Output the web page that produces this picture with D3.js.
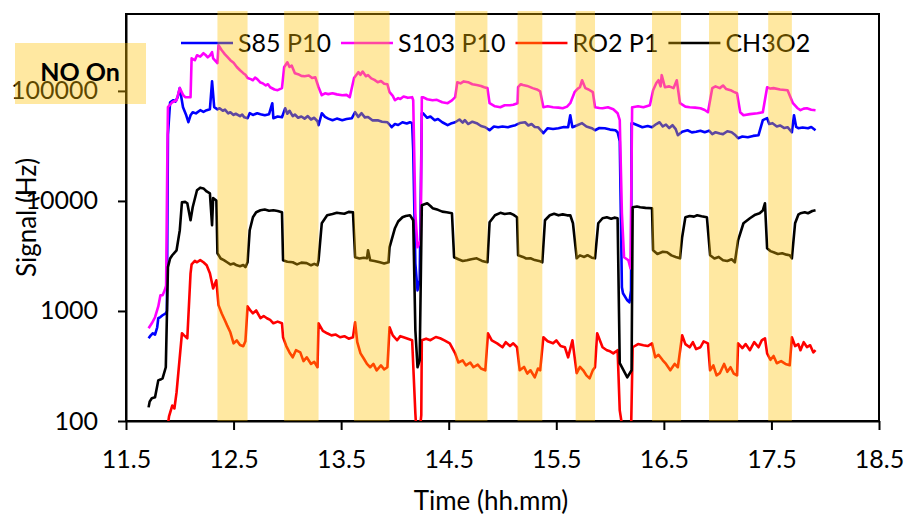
<!DOCTYPE html>
<html>
<head>
<meta charset="utf-8">
<script src="https://cdn.jsdelivr.net/npm/d3@7"></script>
<style>
  html, body { margin: 0; padding: 0; background: #ffffff; }
  svg { display: block; font-family: Lato, "Open Sans", sans-serif; }
</style>
</head>
<body>
<svg id="chart" width="907" height="518"></svg>
<script>
// ---- data -------------------------------------------------------------
const seriesNames = ["S85 P10", "S103 P10", "RO2 P1", "CH3O2"];
const seriesColors = ["#0000FF", "#FF00FF", "#FF0000", "#000000"];

const xTicks = [11.5, 12.5, 13.5, 14.5, 15.5, 16.5, 17.5, 18.5];
const yTicks = [100, 1000, 10000, 100000];

// NO switched on: [start, end] in hh.mm
const noOnPeriods = [
  [12.35, 12.63], [12.97, 13.29], [13.62, 13.95], [14.56, 14.86],
  [15.14, 15.37], [15.68, 15.86], [16.39, 16.66], [16.92, 17.19], [17.47, 17.69]
];

// [time (hh.mm), signal (Hz)]
const s85P10 = [
  [11.71,565],[11.73,600],[11.75,627],[11.77,610],[11.79,711],[11.80,859],[11.82,880],[11.84,914],
  [11.87,953],[11.88,1000],[11.89,40000],[11.91,78900],[11.94,82300],[11.96,80000],[11.98,87700],
  [12.00,106000],[12.03,71100],[12.06,60000],[12.08,52000],[12.10,60000],[12.12,64000],[12.15,62500],
  [12.19,66800],[12.22,64500],[12.25,66800],[12.28,68200],[12.30,122000],[12.32,71100],[12.35,68000],
  [12.37,69600],[12.40,66000],[12.42,67500],[12.45,62500],[12.47,64000],[12.50,60500],[12.52,62000],
  [12.56,59000],[12.58,61000],[12.60,57500],[12.63,56500],[12.65,62700],[12.68,60500],[12.72,62700],
  [12.75,61500],[12.79,60100],[12.83,61500],[12.86,77300],[12.87,56500],[12.91,58500],[12.95,57700],
  [12.98,69600],[13.00,62000],[13.02,66000],[13.05,59000],[13.07,61000],[13.10,57000],[13.13,58500],
  [13.16,56000],[13.19,59000],[13.22,55000],[13.25,57000],[13.28,53000],[13.29,48800],[13.32,62700],
  [13.35,58000],[13.38,56000],[13.42,54200],[13.46,56000],[13.51,54200],[13.55,55500],[13.60,56500],
  [13.63,64000],[13.66,58000],[13.69,62700],[13.72,57500],[13.75,58000],[13.79,54000],[13.84,54200],
  [13.88,52500],[13.93,51900],[13.97,46800],[14.00,50000],[14.03,49000],[14.07,51900],[14.11,50500],
  [14.14,51900],[14.16,50900],[14.17,29000],[14.19,2700],[14.21,1540],[14.23,1900],[14.25,62700],
  [14.26,62700],[14.30,57000],[14.33,58500],[14.37,54200],[14.40,55500],[14.44,51900],[14.49,48800],
  [14.52,50500],[14.56,51900],[14.60,55000],[14.63,51500],[14.65,54200],[14.68,50000],[14.72,52500],
  [14.76,50900],[14.80,48000],[14.84,46800],[14.88,43900],[14.92,47500],[14.96,46800],[15.00,47500],
  [15.05,46800],[15.09,48000],[15.12,48800],[15.16,51000],[15.21,51900],[15.24,48500],[15.27,50000],
  [15.30,47000],[15.33,46800],[15.38,41300],[15.42,45800],[15.47,45000],[15.52,45800],[15.57,47000],
  [15.61,46800],[15.63,60100],[15.65,46800],[15.69,48500],[15.74,50900],[15.78,47500],[15.83,45800],
  [15.86,43900],[15.90,46000],[15.95,45800],[16.00,44500],[16.05,43900],[16.07,42100],[16.09,35000],
  [16.11,1640],[16.12,1450],[16.16,1250],[16.18,1200],[16.195,1540],[16.20,50900],[16.21,50900],
  [16.25,49000],[16.30,46800],[16.35,48000],[16.39,46800],[16.43,50000],[16.46,51900],[16.49,47500],
  [16.52,49500],[16.55,46000],[16.58,48800],[16.61,45000],[16.63,39600],[16.67,42500],[16.72,43900],
  [16.76,42000],[16.80,42500],[16.84,43500],[16.88,42100],[16.92,43500],[16.95,40500],[16.98,42100],
  [17.02,41000],[17.05,40500],[17.09,43000],[17.13,42100],[17.16,40000],[17.19,37200],[17.23,38500],
  [17.28,37900],[17.33,39000],[17.38,39600],[17.42,54200],[17.46,56500],[17.48,50000],[17.51,50900],
  [17.55,47500],[17.58,48500],[17.62,46000],[17.65,46800],[17.69,42100],[17.71,60100],[17.73,47000],
  [17.75,45800],[17.79,46500],[17.84,45800],[17.87,47000],[17.91,43900]
];

const s103P10 = [
  [11.71,696],[11.74,773],[11.77,877],[11.80,1100],[11.82,1390],[11.84,1390],[11.86,1540],[11.873,1700],
  [11.885,30000],[11.89,71100],[11.93,78900],[11.97,82300],[12.00,106000],[12.03,92000],[12.05,87700],
  [12.10,87700],[12.11,198000],[12.14,190000],[12.16,211000],[12.19,205000],[12.22,220000],[12.24,212000],
  [12.26,202000],[12.28,210000],[12.30,225000],[12.31,198000],[12.35,179000],[12.36,260000],[12.39,234000],
  [12.42,215000],[12.44,205000],[12.47,190000],[12.50,180000],[12.53,165000],[12.56,154000],[12.59,145000],
  [12.61,140000],[12.63,131000],[12.66,128000],[12.68,125000],[12.70,132000],[12.72,128000],[12.75,119000],
  [12.77,117500],[12.80,112000],[12.82,115000],[12.84,108000],[12.88,103000],[12.91,101500],[12.95,106000],
  [12.97,164000],[13.00,182000],[13.02,165000],[13.04,170000],[13.07,145000],[13.10,142000],[13.13,137000],
  [13.16,136000],[13.20,138000],[13.23,131000],[13.26,133000],[13.29,108000],[13.32,91400],[13.35,95000],
  [13.38,93500],[13.42,95300],[13.46,93000],[13.51,91400],[13.55,92000],[13.58,87700],[13.62,131000],
  [13.66,148000],[13.68,140000],[13.70,150000],[13.73,136000],[13.75,139000],[13.78,130000],[13.81,126000],
  [13.84,120000],[13.87,123000],[13.90,116000],[13.93,115000],[13.95,97300],[13.98,90000],[14.00,82300],
  [14.03,86000],[14.05,84500],[14.08,89000],[14.12,86500],[14.16,87700],[14.17,82300],[14.19,7730],
  [14.21,3790],[14.24,4390],[14.25,87700],[14.26,87700],[14.30,84000],[14.35,82300],[14.39,83000],
  [14.44,78900],[14.49,77300],[14.53,82000],[14.56,87700],[14.58,120000],[14.61,117000],[14.64,122000],
  [14.68,120000],[14.72,115000],[14.76,113000],[14.80,111000],[14.83,108000],[14.86,106000],[14.88,77300],
  [14.93,72500],[14.98,71100],[15.02,74000],[15.07,74100],[15.10,75000],[15.14,77300],[15.145,108000],
  [15.17,115000],[15.19,113000],[15.23,111000],[15.28,106000],[15.32,103000],[15.35,99000],[15.38,71100],
  [15.42,72500],[15.47,71100],[15.52,70500],[15.56,69600],[15.60,72000],[15.63,77300],[15.67,97300],
  [15.70,105000],[15.72,108000],[15.74,125000],[15.77,106000],[15.80,103000],[15.84,97300],[15.86,71100],
  [15.90,70000],[15.93,69600],[15.98,71000],[16.03,68200],[16.07,62700],[16.09,54200],[16.11,7730],
  [16.13,3080],[16.17,2890],[16.19,2440],[16.205,71100],[16.21,71100],[16.26,72500],[16.31,71100],
  [16.37,74100],[16.40,101500],[16.43,118000],[16.45,125000],[16.47,110000],[16.48,139000],[16.51,108000],
  [16.55,110000],[16.59,106000],[16.62,125000],[16.65,77300],[16.70,72000],[16.74,71100],[16.79,70500],
  [16.84,69600],[16.88,67000],[16.91,64000],[16.95,106000],[16.98,110000],[17.02,106000],[17.05,112000],
  [17.08,104000],[17.12,101500],[17.15,98000],[17.18,95300],[17.21,64000],[17.24,60100],[17.30,61500],
  [17.37,62700],[17.42,64000],[17.46,108000],[17.49,105000],[17.52,106000],[17.58,103000],[17.65,101500],
  [17.70,77300],[17.74,70000],[17.77,66800],[17.80,69000],[17.83,69600],[17.87,67500],[17.91,66800]
];

const ro2P1 = [
  [11.88,80],[11.90,110],[11.93,138],[11.95,130],[11.97,182],[12.02,627],[12.04,600],[12.07,565],
  [12.10,2200],[12.11,2650],[12.14,2850],[12.16,2770],[12.19,2900],[12.22,2770],[12.25,2600],[12.28,2200],
  [12.31,1600],[12.34,1900],[12.36,1130],[12.39,950],[12.42,820],[12.44,740],[12.47,640],[12.50,508],
  [12.53,540],[12.56,490],[12.59,478],[12.61,530],[12.63,1100],[12.66,1000],[12.68,953],[12.71,1010],
  [12.75,859],[12.78,900],[12.81,859],[12.84,830],[12.87,773],[12.91,800],[12.95,773],[12.96,577],
  [12.99,480],[13.02,420],[13.05,379],[13.08,440],[13.12,420],[13.15,350],[13.18,379],[13.22,330],
  [13.25,345],[13.28,308],[13.29,773],[13.33,660],[13.37,627],[13.41,600],[13.45,610],[13.49,577],
  [13.53,590],[13.57,560],[13.61,577],[13.63,789],[13.65,520],[13.68,412],[13.71,370],[13.74,330],
  [13.77,308],[13.80,330],[13.83,289],[13.87,320],[13.90,295],[13.93,308],[13.95,711],[13.98,600],
  [14.02,542],[14.05,590],[14.08,577],[14.12,560],[14.16,542],[14.19,117],[14.20,80],[14.23,80],
  [14.245,113],[14.25,542],[14.29,560],[14.33,542],[14.38,580],[14.42,565],[14.46,540],[14.51,508],
  [14.56,412],[14.59,340],[14.63,356],[14.66,320],[14.70,340],[14.73,308],[14.77,325],[14.80,300],
  [14.84,289],[14.865,627],[14.90,540],[14.95,508],[15.00,468],[15.03,520],[15.07,480],[15.10,508],
  [15.135,468],[15.16,289],[15.20,310],[15.23,270],[15.26,289],[15.30,249],[15.33,300],[15.35,289],
  [15.38,577],[15.42,530],[15.47,508],[15.50,540],[15.54,480],[15.58,468],[15.61,379],[15.65,542],
  [15.69,272],[15.72,310],[15.75,289],[15.78,260],[15.81,244],[15.84,290],[15.86,308],[15.88,627],
  [15.93,468],[15.97,440],[16.00,430],[16.03,412],[16.07,440],[16.09,125],[16.12,80],[16.195,80],
  [16.21,468],[16.26,500],[16.31,488],[16.35,480],[16.39,508],[16.42,379],[16.45,400],[16.49,356],
  [16.52,330],[16.56,289],[16.60,330],[16.63,308],[16.67,601],[16.70,500],[16.74,468],[16.77,520],
  [16.80,450],[16.84,468],[16.87,530],[16.91,508],[16.93,289],[16.96,320],[16.99,260],[17.02,272],
  [17.06,330],[17.09,280],[17.12,308],[17.15,270],[17.18,260],[17.19,508],[17.23,460],[17.26,500],
  [17.30,440],[17.34,520],[17.38,468],[17.41,540],[17.44,565],[17.46,412],[17.49,360],[17.52,390],
  [17.55,335],[17.59,350],[17.63,330],[17.67,321],[17.69,577],[17.72,480],[17.75,500],[17.77,440],
  [17.80,520],[17.83,470],[17.86,488],[17.89,420],[17.91,440]
];

const ch3o2 = [
  [11.71,133],[11.72,150],[11.74,161],[11.77,164],[11.80,234],[11.82,238],[11.84,244],[11.87,308],
  [11.89,2500],[11.91,3000],[11.93,3210],[11.97,3560],[12.00,5420],[12.02,9730],[12.05,9800],[12.07,9530],
  [12.10,6680],[12.12,8770],[12.16,12500],[12.19,13200],[12.22,13000],[12.25,12200],[12.28,11700],
  [12.30,6010],[12.31,10600],[12.34,10100],[12.35,3350],[12.38,3000],[12.41,2900],[12.44,2770],
  [12.47,2650],[12.50,2700],[12.53,2600],[12.56,2550],[12.59,2620],[12.61,2500],[12.63,2770],[12.65,5420],
  [12.68,7110],[12.71,7900],[12.75,8230],[12.79,8350],[12.83,8150],[12.87,8230],[12.91,8100],[12.95,7890],
  [12.96,2890],[13.00,2800],[13.05,2770],[13.09,2650],[13.13,2750],[13.18,2720],[13.22,2600],[13.25,2680],
  [13.28,2600],[13.29,2890],[13.32,6270],[13.37,7410],[13.42,7600],[13.46,7800],[13.49,7730],[13.53,7650],
  [13.57,7950],[13.61,7890],[13.63,3080],[13.67,3000],[13.71,3050],[13.74,3010],[13.75,3560],[13.77,2890],
  [13.81,2850],[13.86,2770],[13.90,2700],[13.94,2770],[13.95,3790],[14.00,5650],[14.03,6500],[14.07,7110],
  [14.10,7300],[14.14,7410],[14.17,6680],[14.19,668],[14.21,308],[14.23,356],[14.25,9140],[14.30,9530],
  [14.33,9000],[14.35,8590],[14.40,8300],[14.44,8000],[14.48,7890],[14.53,7730],[14.55,3080],[14.59,2950],
  [14.63,2850],[14.67,2890],[14.71,2950],[14.76,3010],[14.81,2850],[14.86,2770],[14.88,6400],[14.93,7410],
  [14.98,7800],[15.02,7600],[15.07,7730],[15.10,7500],[15.135,7110],[15.145,3210],[15.19,3100],[15.22,3000],
  [15.26,3010],[15.30,2900],[15.34,2850],[15.37,2770],[15.395,6680],[15.44,7410],[15.48,7650],[15.52,7400],
  [15.56,7550],[15.60,7400],[15.63,7410],[15.655,6270],[15.69,3010],[15.72,3200],[15.76,3100],[15.79,3210],
  [15.83,3050],[15.86,3010],[15.89,6270],[15.93,6960],[15.97,7100],[16.01,6900],[16.04,7050],[16.07,6960],
  [16.09,335],[16.16,249],[16.20,289],[16.21,8770],[16.25,8900],[16.28,8770],[16.33,8650],[16.39,8590],
  [16.40,3560],[16.44,3300],[16.49,3450],[16.53,3420],[16.57,3200],[16.61,3100],[16.65,3010],[16.67,4680],
  [16.70,7110],[16.74,7300],[16.78,7200],[16.81,7410],[16.85,7250],[16.90,7110],[16.93,3210],[16.97,3000],
  [17.01,3100],[17.05,2890],[17.09,2850],[17.13,2950],[17.16,2770],[17.19,4390],[17.24,6270],[17.30,6960],
  [17.35,7500],[17.39,7730],[17.42,8200],[17.44,9530],[17.46,3710],[17.49,3500],[17.52,3420],[17.56,3300],
  [17.60,3350],[17.64,3250],[17.67,3210],[17.69,3010],[17.72,6270],[17.75,7500],[17.77,7730],[17.81,7900],
  [17.84,7730],[17.88,8100],[17.91,8230]
];

const seriesData = [s85P10, s103P10, ro2P1, ch3o2];

// ---- layout -----------------------------------------------------------
const plot = { left: 126, right: 879, top: 14, bottom: 421 };
const tickFont = 25;
const titleFont = 26;
const bandFill = "#FFC000";
const bandOpacity = 0.37;

const svg = d3.select("#chart");

const x = d3.scaleLinear().domain([11.5, 18.5]).range([plot.left, plot.right]);
const y = d3.scaleLog().domain([100, 500000]).range([plot.bottom, plot.top]);

svg.append("defs").append("clipPath").attr("id", "plot-clip")
  .append("rect")
  .attr("x", plot.left).attr("y", plot.top)
  .attr("width", plot.right - plot.left).attr("height", plot.bottom - plot.top);

// frame
svg.append("rect")
  .attr("x", plot.left).attr("y", plot.top)
  .attr("width", plot.right - plot.left).attr("height", plot.bottom - plot.top)
  .attr("fill", "none").attr("stroke", "#000").attr("stroke-width", 2);

// axes
const xAxis = d3.axisBottom(x).tickValues(xTicks).tickFormat(d3.format(".1f"))
  .tickSize(9).tickSizeOuter(0).tickPadding(20);
const yAxis = d3.axisLeft(y).tickValues(yTicks).tickFormat(d3.format("d"))
  .tickSize(8).tickSizeOuter(0).tickPadding(20);

const gx = svg.append("g").attr("transform", `translate(0,${plot.bottom})`).call(xAxis);
const gy = svg.append("g").attr("transform", `translate(${plot.left},0)`).call(yAxis);
[gx, gy].forEach(g => {
  g.select(".domain").attr("stroke", "#000").attr("stroke-width", 2);
  g.selectAll(".tick line").attr("stroke", "#000").attr("stroke-width", 2);
  g.selectAll(".tick text").attr("fill", "#000")
    .style("font-size", tickFont + "px").style("font-family", "Lato, sans-serif");
});

// axis titles
svg.append("text")
  .attr("x", 491).attr("y", 510)
  .attr("text-anchor", "middle")
  .style("font-size", titleFont + "px")
  .text("Time (hh.mm)");

svg.append("text")
  .attr("transform", `translate(36,${(plot.top + plot.bottom) / 2}) rotate(-90)`)
  .attr("text-anchor", "middle")
  .style("font-size", titleFont + "px")
  .text("Signal (Hz)");

// series lines
const line = d3.line().x(d => x(d[0])).y(d => y(d[1]));
const gLines = svg.append("g").attr("clip-path", "url(#plot-clip)");
seriesData.forEach((data, i) => {
  gLines.append("path")
    .datum(data)
    .attr("d", line)
    .attr("fill", "none")
    .attr("stroke", seriesColors[i])
    .attr("stroke-width", 2.6)
    .attr("stroke-linejoin", "round");
});

// legend
const legend = svg.append("g");
let lx = 181;
const ly = 43;
seriesNames.forEach((name, i) => {
  legend.append("line")
    .attr("x1", lx).attr("x2", lx + 52).attr("y1", ly).attr("y2", ly)
    .attr("stroke", seriesColors[i]).attr("stroke-width", 2.6);
  const t = legend.append("text")
    .attr("x", lx + 57).attr("y", ly + 9)
    .style("font-size", tickFont + "px")
    .text(name);
  lx += 57 + t.node().getComputedTextLength() + 10;
});

// NO-on shading, drawn over everything
const gBands = svg.append("g").attr("fill", bandFill).attr("fill-opacity", bandOpacity);
gBands.selectAll("rect").data(noOnPeriods).join("rect")
  .attr("x", d => x(d[0]))
  .attr("width", d => x(d[1]) - x(d[0]))
  .attr("y", 11)
  .attr("height", 410);

// "NO On" key
gBands.append("rect").attr("x", 15).attr("y", 43).attr("width", 131).attr("height", 61);
svg.append("text")
  .attr("x", 80).attr("y", 81)
  .attr("text-anchor", "middle")
  .style("font-size", tickFont + "px").style("font-weight", "bold")
  .text("NO On");
</script>
</body>
</html>
